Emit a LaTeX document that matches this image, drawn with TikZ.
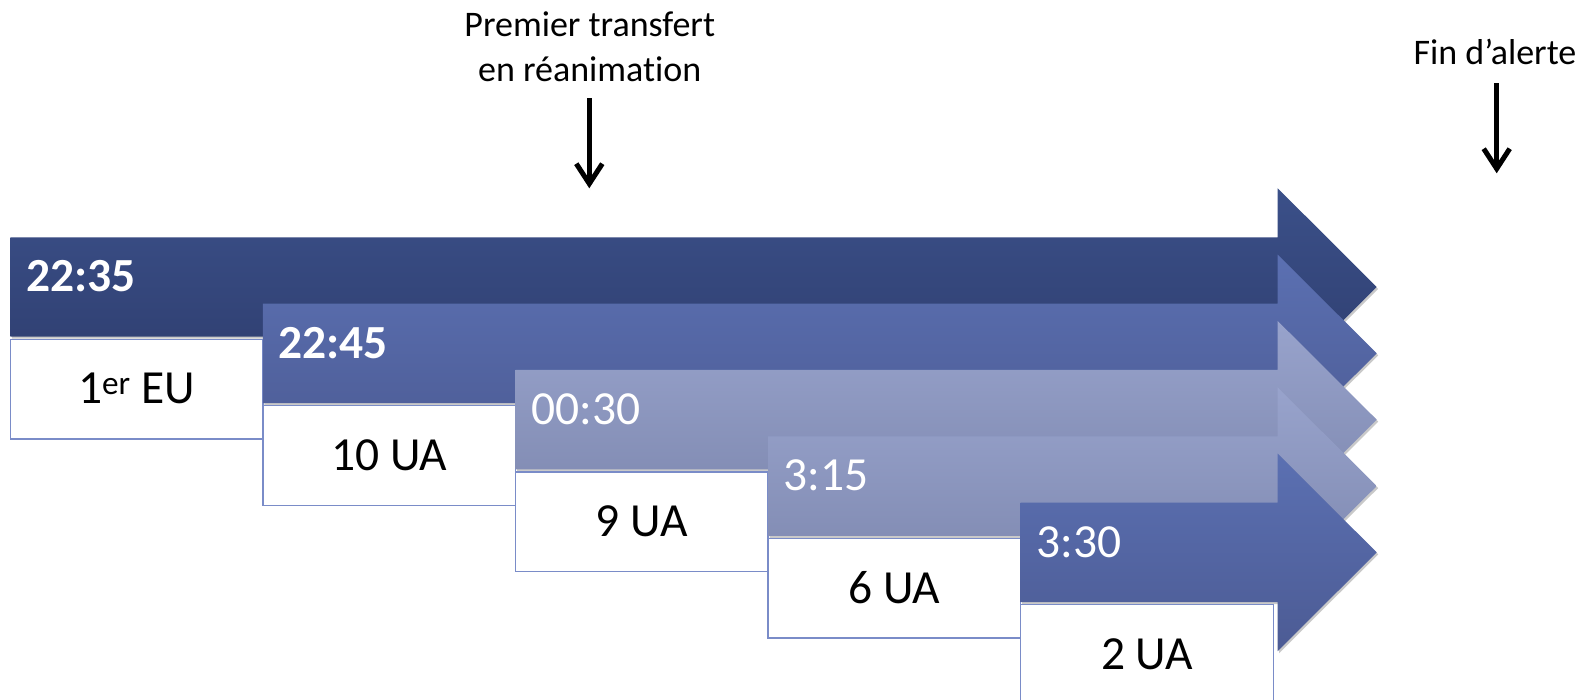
\documentclass[tikz,border=0pt]{standalone}
\usepackage{fontspec}
\setmainfont[Ligatures=NoCommon]{Carlito}
\usetikzlibrary{arrows.meta,shadows}
\definecolor{aOneT}{HTML}{3B5089}
\definecolor{aOneB}{HTML}{2E3D6E}
\definecolor{aTwoT}{HTML}{5B70B2}
\definecolor{aTwoB}{HTML}{4C5B94}
\definecolor{aThrT}{HTML}{98A3CC}
\definecolor{aThrB}{HTML}{7D87AE}
\definecolor{boxline}{HTML}{7A8CC8}
\tikzset{
  bigarrow/.style={draw=none,drop shadow={shadow xshift=1.5pt,shadow yshift=-2pt,opacity=0.35,fill=black!60}},
  infobox/.style={draw=boxline,line width=1.5pt,fill=white},
  timetxt/.style={anchor=base west,text=white,font=\fontsize{47.5}{50}\selectfont,inner sep=0pt},
  boxtxt/.style={anchor=center,text=black,font=\fontsize{47.5}{50}\selectfont,inner sep=0pt},
  toptxt/.style={align=center,text=black,font=\fontsize{36}{45}\selectfont,inner sep=0pt},
  marker/.style={line width=5pt,-{Straight Barb[length=20pt,width=26pt,line width=5pt]},drop shadow={shadow xshift=1pt,shadow yshift=-2pt,opacity=0.3}}
}
\begin{document}
\begin{tikzpicture}[x=1pt,y=-1pt]
\useasboundingbox (0,0) rectangle (1585,700);
\fill[white] (0,0) rectangle (1585,700);
\def\R{1277.7}
\def\Tip{1376.7}
\def\H{98.7}
% arrow bands, boxes
\foreach \i/\ct/\cb/\tx/\bold/\bt in {0/aOneT/aOneB/22:35/1/{1\textsuperscript{er} EU},1/aTwoT/aTwoB/22:45/1/10 UA,2/aThrT/aThrB/00:30/0/9 UA,3/aThrT/aThrB/3:15/0/6 UA,4/aTwoT/aTwoB/3:30/0/2 UA}{
  \pgfmathsetmacro{\L}{10.3+252.6*\i}
  \pgfmathsetmacro{\T}{237.3+66.35*\i}
  \pgfmathsetmacro{\B}{\T+99.4}
  \pgfmathsetmacro{\C}{\T+49.7}
  \pgfmathsetmacro{\Rb}{\L+252.6}
  \path[bigarrow,top color=\ct,bottom color=\cb]
    (\L,\T) -- (\R,\T) -- (\R,\C-\H) -- (\Tip,\C) -- (\R,\C+\H) -- (\R,\B) -- (\L,\B) -- cycle;
  \ifnum\bold=1
    \node[timetxt,font=\fontsize{47.5}{50}\selectfont\bfseries] (t\i) at (\L+15.5,\T+54.5) {\tx};
  \else
    \node[timetxt] (t\i) at (\L+15.5,\T+54.5) {\tx};
  \fi
  \path[infobox] (\L,\B+2.6) rectangle (\Rb,\B+102.3);
  \node[boxtxt] (b\i) at ({(\L+\Rb)/2},\B+52) {\bt};
}
% top labels
\node[toptxt,anchor=base] (lab1) at (589.7,81.5) {Premier transfert\\en réanimation};
\coordinate (s1) at (589.3,98.3);
\coordinate (e1) at (589.3,188.3);
\draw[marker] (s1) -- (e1);
\node[toptxt,anchor=base] (lab2) at (1495,65) {Fin d’alerte};
\coordinate (s2) at (1496.7,83.3);
\coordinate (e2) at (1496.7,173.3);
\draw[marker] (s2) -- (e2);
\end{tikzpicture}
\end{document}
